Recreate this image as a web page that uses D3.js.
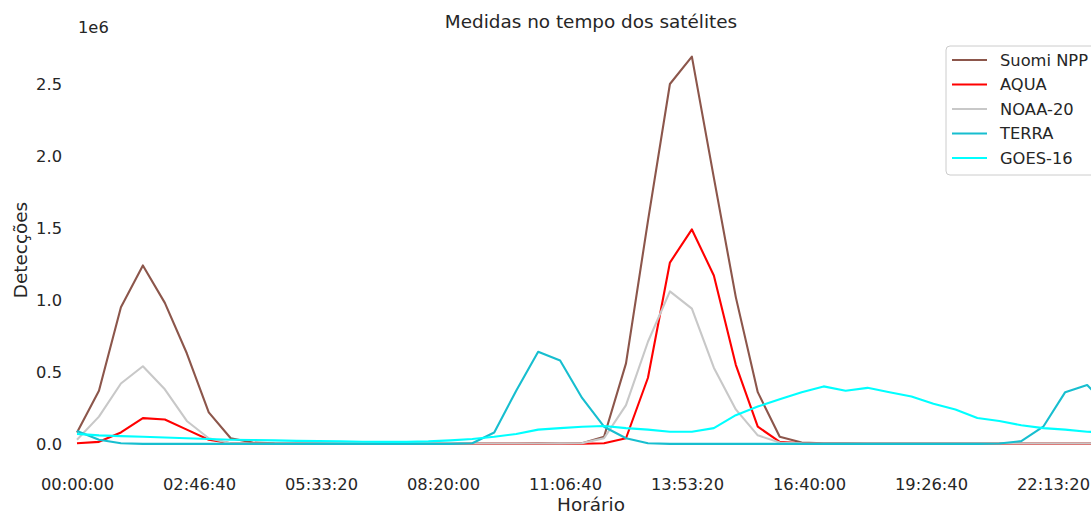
<!DOCTYPE html>
<html>
<head>
<meta charset="utf-8">
<script src="https://cdn.jsdelivr.net/npm/d3@7"></script>
<style>
  html, body { margin: 0; padding: 0; background: #ffffff; }
  svg { display: block; font-family: "DejaVu Sans", sans-serif; }
</style>
</head>
<body>
<svg id="chart" width="1091" height="516"></svg>
<script>
// ---- data (values in units of 1e6 detections) ----
const times = ["00:00","00:30","01:00","01:30","02:00","02:30","03:00","03:30","04:00","04:30",
  "05:00","05:30","06:00","06:30","07:00","07:30","08:00","08:30","09:00","09:30",
  "10:00","10:30","11:00","11:30","12:00","12:30","13:00","13:30","14:00","14:30",
  "15:00","15:30","16:00","16:30","17:00","17:30","18:00","18:30","19:00","19:30",
  "20:00","20:30","21:00","21:30","22:00","22:30","23:00","23:30"];

const suomiNPP = [0.08,0.37,0.95,1.24,0.98,0.63,0.22,0.04,0.01,0.004,
  0.003,0.003,0.002,0.002,0.002,0.002,0.002,0.002,0.003,0.003,
  0.003,0.004,0.004,0.006,0.05,0.56,1.55,2.50,2.69,1.85,
  1.02,0.36,0.05,0.01,0.005,0.004,0.003,0.003,0.003,0.003,
  0.003,0.003,0.003,0.003,0.003,0.003,0.003,0.003];

const aqua = [0.005,0.015,0.08,0.18,0.17,0.10,0.03,0.005,0.003,0.002,
  0.002,0.002,0.002,0.002,0.002,0.002,0.002,0.002,0.002,0.002,
  0.002,0.002,0.002,0.002,0.005,0.04,0.46,1.26,1.49,1.17,
  0.55,0.12,0.015,0.005,0.002,0.002,0.002,0.002,0.002,0.002,
  0.002,0.002,0.002,0.002,0.002,0.002,0.002,0.002];

const noaa20 = [0.03,0.19,0.42,0.54,0.38,0.16,0.04,0.005,0.003,0.003,
  0.003,0.003,0.003,0.003,0.003,0.003,0.003,0.003,0.003,0.003,
  0.003,0.003,0.004,0.006,0.04,0.27,0.71,1.06,0.94,0.53,
  0.24,0.06,0.01,0.004,0.003,0.003,0.003,0.003,0.003,0.003,
  0.003,0.003,0.003,0.003,0.003,0.003,0.003,0.003];

const terra = [0.09,0.03,0.005,0.001,0.001,0.001,0.001,0.001,0.001,0.001,
  0.001,0.001,0.001,0.001,0.001,0.001,0.001,0.001,0.005,0.08,
  0.37,0.64,0.58,0.32,0.12,0.04,0.005,0.001,0.001,0.001,
  0.001,0.001,0.001,0.001,0.001,0.001,0.001,0.001,0.001,0.001,
  0.001,0.001,0.003,0.02,0.12,0.36,0.41,0.25];

const goes16 = [0.07,0.06,0.055,0.05,0.045,0.04,0.035,0.03,0.028,0.025,
  0.022,0.02,0.018,0.016,0.015,0.015,0.018,0.025,0.035,0.05,
  0.07,0.10,0.11,0.12,0.125,0.11,0.10,0.085,0.085,0.11,
  0.20,0.26,0.31,0.36,0.40,0.37,0.39,0.36,0.33,0.28,
  0.24,0.18,0.16,0.13,0.11,0.10,0.085,0.08];

const seriesNames = ["Suomi NPP","AQUA","NOAA-20","TERRA","GOES-16"];
const seriesValues = [suomiNPP, aqua, noaa20, terra, goes16];
const seriesColors = ["#8c564b","#ff0000","#c8c8c8","#17becf","#00ffff"];

const xTickValues = [0,10000,20000,30000,40000,50000,60000,70000,80000];
const yTickValues = [0,0.5,1.0,1.5,2.0,2.5];

// ---- drawing ----
const svg = d3.select("#chart");
const textColor = "#262626";

const toSec = s => { const [h,m] = s.split(":").map(Number); return h*3600 + m*60; };
const secs = times.map(toSec);

const x = d3.scaleLinear().domain([0, 80000]).range([77, 1053]);
const y = d3.scaleLinear().domain([0, 2.5]).range([444, 84]);

const fmtTime = s => {
  const h = Math.floor(s/3600), m = Math.floor((s%3600)/60), sec = s%60;
  return [h,m,sec].map(v => String(v).padStart(2,"0")).join(":");
};

// x axis (no domain line, no ticks)
const xAxis = d3.axisBottom(x).tickValues(xTickValues).tickFormat(fmtTime).tickSize(0).tickPadding(0);
const gx = svg.append("g").attr("transform", "translate(0,478)").call(xAxis);
gx.select(".domain").remove();
gx.selectAll("text").attr("fill", textColor).attr("font-size", "16.3px")
  .attr("font-family", "DejaVu Sans").attr("dy", "0.71em");

// y axis
const yAxis = d3.axisLeft(y).tickValues(yTickValues).tickFormat(d3.format(".1f")).tickSize(0).tickPadding(0);
const gy = svg.append("g").attr("transform", "translate(62,0)").call(yAxis);
gy.select(".domain").remove();
gy.selectAll("text").attr("fill", textColor).attr("font-size", "16.3px")
  .attr("font-family", "DejaVu Sans");

// lines
const line = d3.line().x((d,i) => x(secs[i])).y(d => y(d));
seriesValues.forEach((vals, k) => {
  svg.append("path").datum(vals)
    .attr("d", line)
    .attr("fill", "none")
    .attr("stroke", seriesColors[k])
    .attr("stroke-width", 2.1)
    .attr("stroke-linejoin", "round")
    .attr("stroke-linecap", "butt");
});

// title, labels, offset
svg.append("text").attr("x", 591).attr("y", 28).attr("text-anchor", "middle")
  .attr("font-size", "18.4px").attr("fill", textColor).text("Medidas no tempo dos satélites");
svg.append("text").attr("x", 591).attr("y", 511).attr("text-anchor", "middle")
  .attr("font-size", "18.4px").attr("fill", textColor).text("Horário");
svg.append("text").attr("transform", "translate(27,250) rotate(-90)").attr("text-anchor", "middle")
  .attr("font-size", "18.4px").attr("fill", textColor).text("Detecções");
svg.append("text").attr("x", 78).attr("y", 33).attr("text-anchor", "start")
  .attr("font-size", "16.3px").attr("fill", textColor).text("1e6");

// legend
const lg = svg.append("g");
lg.append("rect").attr("x", 946).attr("y", 46).attr("width", 200).attr("height", 129)
  .attr("rx", 4).attr("fill", "#ffffff").attr("fill-opacity", 0.8)
  .attr("stroke", "#cccccc").attr("stroke-width", 1);
const rowY = d3.scaleLinear().domain([0, 4]).range([60, 158]);
seriesNames.forEach((name, k) => {
  const yy = rowY(k);
  lg.append("line").attr("x1", 952).attr("x2", 987).attr("y1", yy).attr("y2", yy)
    .attr("stroke", seriesColors[k]).attr("stroke-width", 2.1);
  lg.append("text").attr("x", 1000).attr("y", yy).attr("dy", "0.35em")
    .attr("font-size", "16.3px").attr("fill", textColor).text(name);
});
</script>
</body>
</html>
